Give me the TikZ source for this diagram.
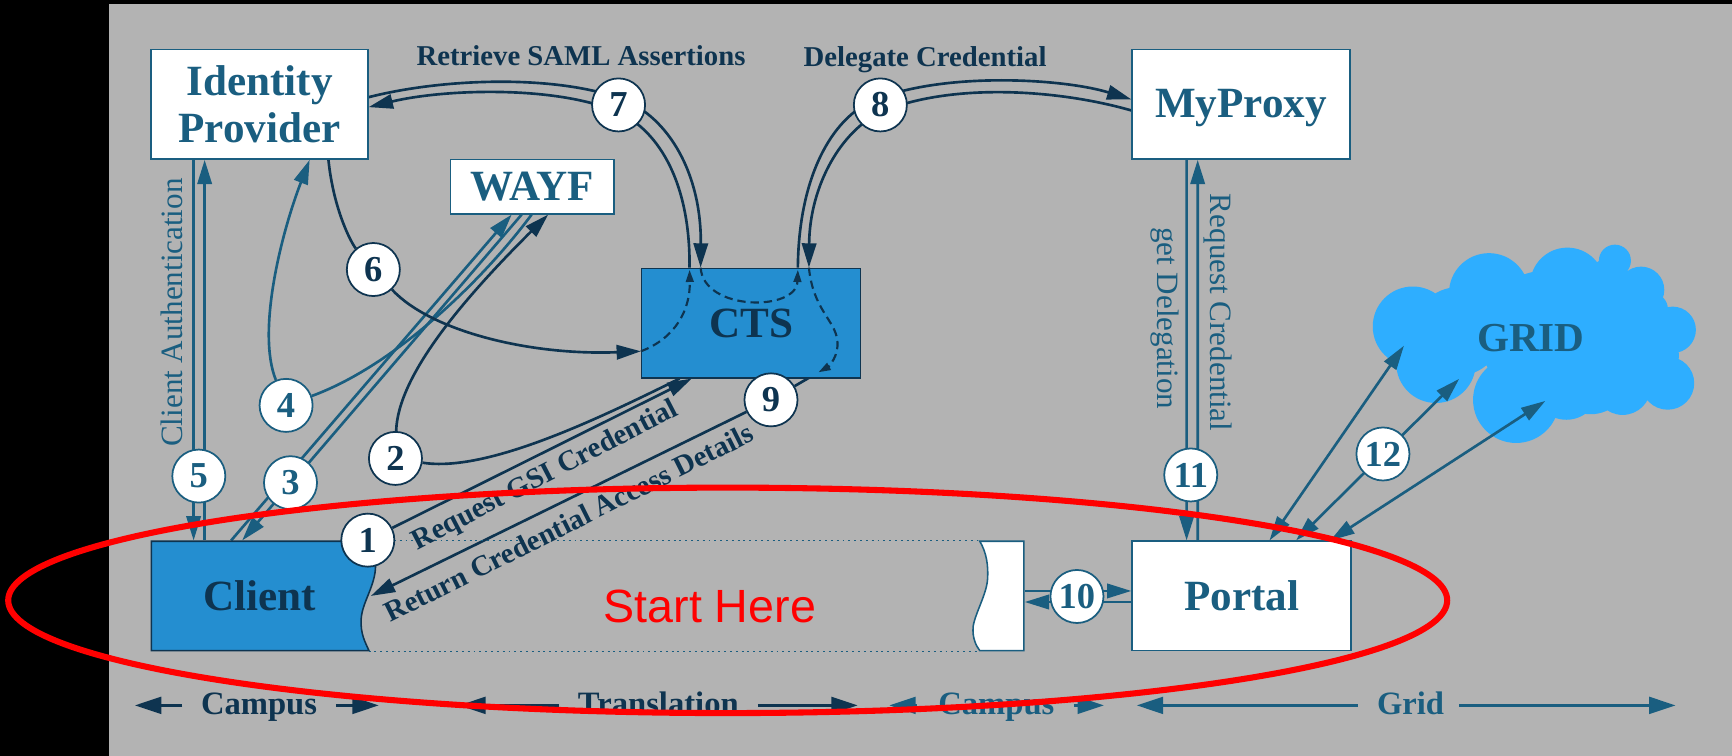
\documentclass[tikz,border=0pt]{standalone}
\usepackage{fontspec}
\setmainfont{Liberation Serif}
\newfontfamily\sansstart{Liberation Sans}
\usetikzlibrary{arrows.meta}
\pgfdeclarelayer{bg}
\pgfdeclarelayer{edges}
\pgfsetlayers{bg,edges,main}
\definecolor{tealc}{RGB}{26,94,128}
\definecolor{navyc}{RGB}{14,52,80}
\definecolor{blueboxc}{RGB}{36,142,208}
\definecolor{cloudc}{RGB}{46,174,255}
\definecolor{grayc}{RGB}{179,179,179}
\tikzset{
  boxw/.style={draw=tealc, line width=0.4pt, fill=white, inner sep=0pt, text=tealc, font=\fontsize{11.1}{12.2}\selectfont\bfseries, align=center},
  boxb/.style={draw=navyc, line width=0.4pt, fill=blueboxc, inner sep=0pt, text=navyc, font=\fontsize{11.1}{12.2}\selectfont\bfseries},
  numc/.style={circle, fill=white, draw, line width=0.45pt, minimum size=0.48cm, inner sep=0pt, font=\fontsize{9.4}{10}\selectfont\bfseries},
  numt/.style={numc, draw=tealc, text=tealc},
  numn/.style={numc, draw=navyc, text=navyc},
  edget/.style={draw=tealc, line width=0.68pt},
  edgen/.style={draw=navyc, line width=0.68pt},
  arr/.style={-{Triangle[length=0.22cm,width=0.13cm]}},
  arrs/.style={{Triangle[length=0.22cm,width=0.13cm]}-{Triangle[length=0.22cm,width=0.13cm]}},
  dsh/.style={draw=navyc, line width=0.55pt, dash pattern=on 0.075cm off 0.045cm, -{Triangle[length=0.11cm,width=0.07cm]}},
  elab/.style={text=navyc, font=\fontsize{8}{9}\selectfont, inner sep=0pt},
  dlab/.style={text=navyc, font=\fontsize{7.45}{8.5}\selectfont\bfseries, inner sep=0pt},
  toplab/.style={text=navyc, font=\fontsize{7.4}{8}\selectfont\bfseries, inner sep=0pt, anchor=base},
  botlab/.style={font=\fontsize{8.4}{9}\selectfont\bfseries, inner sep=0pt, anchor=base},
  botarr/.style={line width=0.85pt, -{Triangle[length=0.24cm,width=0.15cm]}},
}
\begin{document}
\begin{tikzpicture}[x=0.01cm,y=-0.01cm]
\useasboundingbox (0,0) rectangle (1568,684.4);
\begin{pgfonlayer}{bg}
\fill[black] (0,0) rectangle (1568,684.4);
\fill[grayc] (98.5,3.6) rectangle (1568,684.4);
\fill[cloudc] (1279,295.6) circle[radius=0.362cm]
  (1348,265.4) circle[radius=0.362cm]
  (1419,258) circle[radius=0.338cm]
  (1462,236) circle[radius=0.145cm]
  (1455,255) circle[radius=0.20cm]
  (1485.7,262.4) circle[radius=0.21cm]
  (1495,280) circle[radius=0.15cm]
  (1514.3,298.6) circle[radius=0.21cm]
  (1500,322) circle[radius=0.20cm]
  (1509.8,346.9) circle[radius=0.24cm]
  (1469,350) circle[radius=0.256cm]
  (1418,350) circle[radius=0.30cm]
  (1372.6,362) circle[radius=0.39cm]
  (1300,328.8) circle[radius=0.36cm]
  (1320,300) circle[radius=0.40cm]
  (1400,305) circle[radius=0.60cm]
  (1470,300) circle[radius=0.40cm]
  (1440,340) circle[radius=0.35cm];
\end{pgfonlayer}

% boxes
\node[boxw, minimum width=1.96cm, minimum height=0.99cm] (idp) at (235,94.5) {Identity\\Provider};
\node[boxw, minimum width=1.48cm, minimum height=0.49cm] (wayf) at (482,169) {WAYF};
\node[boxb, minimum width=1.98cm, minimum height=0.99cm] (cts) at (680,292.5) {CTS};
\node[boxw, minimum width=1.97cm, minimum height=0.99cm] (myproxy) at (1123.5,94.5) {};
\node[text=tealc, inner sep=0pt, font=\fontsize{11.1}{12.2}\selectfont\bfseries, anchor=base] (myproxylab) at (1123.5,106) {MyProxy};
\node[boxw, minimum width=1.98cm, minimum height=0.99cm] (portal) at (1124,539.5) {Portal};

% client tape shape
\filldraw[fill=blueboxc, draw=navyc, line width=0.4pt] (137,490) -- (340,490) -- (340,512) .. controls (340,530) and (328,545) .. (327,560) .. controls (326,574) and (331,582) .. (334,589) -- (137,589) -- cycle;
\node[inner sep=0pt, minimum width=1.96cm, minimum height=0.99cm, text=navyc, font=\fontsize{11.1}{12.2}\selectfont\bfseries] (client) at (235,539.5) {Client};
% portal-side tape
\filldraw[fill=white, draw=tealc, line width=0.4pt] (887,490) .. controls (893,500) and (895,512) .. (894,525) .. controls (893,538) and (883,555) .. (881,567) .. controls (880,578) and (884,585) .. (887,589) -- (927,589) -- (927,490) -- cycle;
\node[inner sep=0pt, minimum width=0.4cm, minimum height=0.99cm] (tape) at (907,539.5) {};
\draw[tealc, line width=0.4pt, dash pattern=on 0.5pt off 1pt] ([xshift=0.07cm]client.north east) -- (tape.north west) (client.south east) -- (tape.south west);

% coordinates
\coordinate (g1) at (1271,313);
\coordinate (g2) at (1321,343);
\coordinate (g3) at (1399,363);
\coordinate (d3end) at (741,337);

% number circles
\node[numn] (c1) at (333,489) {1};
\node[numn] (c2) at (358,415) {2};
\node[numt] (c3) at (263,437) {3};
\node[numt] (c4) at (259,367) {4};
\node[numt] (c5) at (180,431) {5};
\node[numn] (c6) at (338,244) {6};
\node[numn] (c7) at (560,95) {7};
\node[numn] (c8) at (797,95) {8};
\node[numn] (c9) at (698,362) {9};
\node[numt] (c10) at (975,540) {10};
\node[numt] (c11) at (1078,430) {11};
\node[numt] (c12) at (1252,411) {12};

\begin{pgfonlayer}{edges}
% 5
\draw[edget, arr] ([xshift=0.39cm]idp.south west) -- ([xshift=0.39cm]client.north west);
\draw[edget, arr] ([xshift=0.49cm]client.north west) -- ([xshift=0.49cm]idp.south west);
% 11
\draw[edget, arr] ([xshift=0.50cm]myproxy.south west) -- ([xshift=0.50cm]portal.north west);
\draw[edget, arr] ([xshift=0.60cm]portal.north west) -- ([xshift=0.60cm]myproxy.south west);
% 10
\draw[edget, arr] ([yshift=0.045cm]tape.east) -- ([yshift=0.045cm]portal.west);
\draw[edget, arr] ([yshift=-0.055cm]portal.west) -- ([yshift=-0.055cm]tape.east);
% 12
\draw[edget, arrs] ([xshift=1.25cm]portal.north west) -- (g1);
\draw[edget, arrs] ([xshift=1.49cm]portal.north west) -- (g2);
\draw[edget, arrs] ([xshift=1.80cm]portal.north west) -- (g3);
% 3
\draw[edget, arr] ([xshift=0.73cm]client.north west) -- ([xshift=0.56cm]wayf.south west);
\draw[edget, arr] ([xshift=0.65cm]wayf.south west) -- ([xshift=0.83cm]client.north west);
% 4
\draw[edget, arr] (c4) .. controls (232,300) and (255,210) .. ([xshift=1.44cm]idp.south west);
\draw[edget] (c4) .. controls (360,330) and (440,250) .. ([xshift=0.74cm]wayf.south west);
% 2
\draw[edgen] ([xshift=0.35cm]cts.south west) .. controls (540,380) and (440,428) .. (c2);
\draw[edgen, arr] (c2) .. controls (360,340) and (420,270) .. ([xshift=0.89cm]wayf.south west);
% 1
\draw[edgen, arr] (c1) -- ([xshift=0.46cm]cts.south west);
% 6
\draw[edgen] ([xshift=1.61cm]idp.south west) .. controls (302,190) and (318,220) .. (c6);
\draw[edgen, arr] (c6) .. controls (390,300) and (480,322) .. ([yshift=-0.255cm]cts.west);
% 7
\draw[edgen, arr] ([yshift=0.065cm]idp.east) .. controls (400,71) and (502,67) .. (564,90) .. controls (606,107) and (635,158) .. ([xshift=0.54cm]cts.north west);
\draw[edgen, arr] ([xshift=0.44cm]cts.north west) .. controls (625,162) and (594,115) .. (556,100) .. controls (498,77) and (400,81) .. ([yshift=-0.025cm]idp.east);
% 8
\draw[edgen, arr] ([xshift=1.42cm]cts.north west) .. controls (723,162) and (752,106) .. (793,90) .. controls (856,65) and (962,71) .. ([yshift=0.045cm]myproxy.west);
\draw[edgen, arr] ([yshift=-0.055cm]myproxy.west) .. controls (958,81) and (864,75) .. (801,100) .. controls (762,116) and (733,168) .. ([xshift=1.52cm]cts.north west);
% 9
\draw[edgen] (d3end) -- (c9);
\draw[edgen, arr] (c9) -- ([xshift=0.02cm]client.east);
\end{pgfonlayer}

% dashed paths inside CTS
\draw[dsh] ([yshift=-0.255cm]cts.west) .. controls (612,306) and (625,280) .. ([xshift=0.44cm,yshift=-0.02cm]cts.north west);
\draw[dsh] ([xshift=0.54cm]cts.north west) .. controls (637,282) and (721,282) .. ([xshift=1.42cm,yshift=-0.02cm]cts.north west);
\draw[dsh] ([xshift=1.52cm]cts.north west) .. controls (736,280) and (756,290) .. (758,308) .. controls (760,322) and (750,332) .. (d3end);

% labels
\node[dlab, rotate=27.4] (lreq) at (494,431) {Request GSI Credential};
\node[dlab, rotate=26.6] (lret) at (515,473) {Return Credential Access Details};
\node[toplab] (lsaml) at (526,59) {Retrieve SAML Assertions};
\node[toplab] (ldel) at (837.5,60) {Delegate Credential};
\node[elab, text=tealc, rotate=90] (lauth) at (156,283) {Client Authentication};
\node[elab, text=tealc, rotate=-90] (lreqc) at (1103,283) {Request Credential};
\node[elab, text=tealc, rotate=-90] (lgetd) at (1055,288) {get Delegation};
\node[text=tealc, inner sep=0pt, font=\fontsize{10.6}{12}\selectfont\bfseries] (grid) at (1386,306) {GRID};

% bottom scale
\node[botlab, text=navyc] (bcampus1) at (234.5,647) {Campus};
\node[botlab, text=navyc] (btrans) at (596,647) {Translation};
\node[botlab, text=tealc] (bcampus2) at (902,647) {Campus};
\node[botlab, text=tealc] (bgrid) at (1277,647) {Grid};
\draw[botarr, navyc] (165,638.6) -- (122,638.6);
\draw[botarr, navyc] (304,638.6) -- (343,638.6);
\draw[botarr, navyc] (506,638.6) -- (415.6,638.6);
\draw[botarr, navyc] (686,638.6) -- (776.6,638.6);
\draw[botarr, tealc] (830,638.6) -- (805,638.6);
\draw[botarr, tealc] (972,638.6) -- (999.5,638.6);
\draw[botarr, tealc] (1229,638.6) -- (1029,638.6);
\draw[botarr, tealc] (1321,638.6) -- (1517,638.6);

% red annotation
\draw[red, line width=0.055cm] (658.8,543.5) ellipse[x radius=6.51cm, y radius=1.02cm];
\node[text=red, font=\sansstart\fontsize{12}{14}\selectfont, anchor=base, inner sep=0pt] (start) at (642.6,564) {Start Here};
\end{tikzpicture}
\end{document}
